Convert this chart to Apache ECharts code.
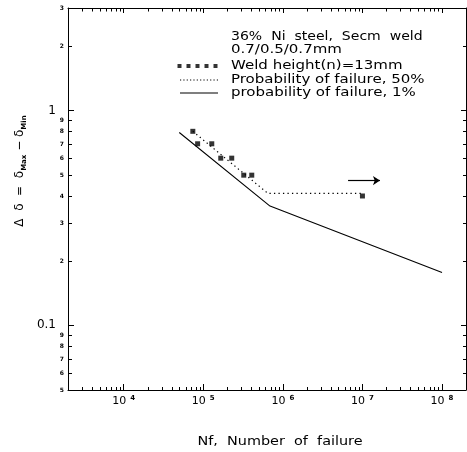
<!DOCTYPE html>
<html><head><meta charset="utf-8">
<script src="https://cdn.jsdelivr.net/npm/echarts@6/dist/echarts.min.js"></script>
<style>html,body{margin:0;padding:0;background:#fff}#c{width:467px;height:452px}</style>
</head><body><div id="c"></div>
<script>
// ---- data ----
const weldN     = [7.4e4, 8.5e4, 1.28e5, 1.66e5, 2.28e5, 3.23e5, 4.07e5, 1.0e7];
const weldDelta = [0.80, 0.70, 0.70, 0.60, 0.60, 0.50, 0.50, 0.40];
const p50N      = [7.4e4, 6.5e5, 1.0e7];
const p50Delta  = [0.80, 0.411, 0.411];
const p1N       = [5.0e4, 6.9e5, 1.0e8];
const p1Delta   = [0.79, 0.359, 0.176];
const arrowN    = [6.6e6, 1.66e7];
const arrowDelta= [0.472, 0.472];
const xRange = [2000, 2e8];
const yRange = [0.05, 3];
const minorMultipliers = [2, 3, 4, 5, 6, 7, 8, 9];
const xDecades = [3, 4, 5, 6, 7, 8];
const yDecades = [-2, -1, 0];
const seriesNames = ['Weld height(n)=13mm', 'Probability of failure, 50%', 'probability of failure, 1%'];
const noteLines = ['36%  Ni  steel,  Secm  weld', '0.7/0.5/0.7mm'];
const xTitle = 'Nf,  Number  of  failure';

const FONT = 'DejaVu Sans';
const isDecade = v => Math.abs(Math.log10(v) - Math.round(Math.log10(v))) < 1e-6;

const chart = echarts.init(document.getElementById('c'), null, {renderer: 'canvas'});
const squaresIcon = 'path://M0,0h4v4h-4zM9,0h4v4h-4zM18,0h4v4h-4zM27,0h4v4h-4zM36,0h4v4h-4z';
let dots = '';
for (let i = 0; i < 12; i++) dots += 'M' + (i * 3.4).toFixed(1) + ',0h1.2v1.2h-1.2z';
const dottedIcon = 'path://' + dots;
const solidIcon = 'path://M0,0h38v1.1h-38z';

const legendCommon = {orient: 'vertical', itemWidth: 38, itemHeight: 4, padding: 0, selectedMode: false,
  formatter: () => '', textStyle: {fontSize: 1}};

const option = {
  animation: false,
  backgroundColor: '#fff',
  grid: {left: 68, right: 1, top: 8, bottom: 62, containLabel: false},
  xAxis: [{
    type: 'log', logBase: 10, min: xRange[0], max: xRange[1], position: 'bottom',
    axisLine: {show: true, lineStyle: {color: '#000', width: 1}},
    axisTick: {show: true, inside: true, length: 6, lineStyle: {color: '#000', width: 1}},
    splitLine: {show: false},
    axisLabel: {
      show: true, margin: 5, showMinLabel: false, showMaxLabel: false,
      formatter: v => isDecade(v) ? '{b|10}{s|' + Math.round(Math.log10(v)) + '}' : '',
      rich: {
        b: {fontSize: 11, fontFamily: FONT, color: '#000', lineHeight: 13},
        s: {fontSize: 7, fontFamily: FONT, fontWeight: 'bold', color: '#000', verticalAlign: 'top', padding: [0, 0, 0, 4], lineHeight: 10}
      }
    }
  }, {
    type: 'log', logBase: 10, min: xRange[0], max: xRange[1], position: 'top',
    axisLine: {show: true, lineStyle: {color: '#000', width: 1}},
    axisTick: {show: true, inside: true, length: 5, lineStyle: {color: '#000', width: 1}},
    splitLine: {show: false}, axisLabel: {show: false}
  }],
  yAxis: [{
    type: 'log', logBase: 10, min: yRange[0], max: yRange[1], position: 'left',
    axisLine: {show: true, lineStyle: {color: '#000', width: 1}},
    axisTick: {show: true, inside: true, length: 6, lineStyle: {color: '#000', width: 1}},
    splitLine: {show: false},
    axisLabel: {
      show: true, margin: 12, showMinLabel: false, showMaxLabel: false,
      fontSize: 12, fontFamily: FONT, color: '#000',
      formatter: v => {
        if (!isDecade(v)) return '';
        const e = Math.round(Math.log10(v));
        return e >= 0 ? String(Math.pow(10, e)) : Math.pow(10, e).toFixed(-e);
      }
    }
  }, {
    type: 'log', logBase: 10, min: yRange[0], max: yRange[1], position: 'right',
    axisLine: {show: true, lineStyle: {color: '#000', width: 1}},
    axisTick: {show: true, inside: true, length: 5, lineStyle: {color: '#000', width: 1}},
    splitLine: {show: false}, axisLabel: {show: false}
  }],
  legend: [
    Object.assign({}, legendCommon, {data: [{name: seriesNames[0], icon: squaresIcon}], left: 177, top: 64, itemWidth: 41}),
    Object.assign({}, legendCommon, {data: [{name: seriesNames[1], icon: dottedIcon}], left: 180, top: 78}),
    Object.assign({}, legendCommon, {data: [{name: seriesNames[2], icon: solidIcon}], left: 180, top: 91})
  ],
  series: [
    {
      name: seriesNames[0], type: 'scatter', symbol: 'rect', symbolSize: 5,
      itemStyle: {color: '#000'},
      data: weldN.map((n, i) => [n, weldDelta[i]]),
      markLine: {
        silent: true, symbol: ['none', 'arrow'], symbolSize: 7,
        lineStyle: {color: '#000', type: 'solid', width: 1.2}, label: {show: false},
        data: [[{coord: [arrowN[0], arrowDelta[0]]}, {coord: [arrowN[1], arrowDelta[1]]}]]
      },
      z: 5
    },
    {
      name: seriesNames[1], type: 'line', symbol: 'none',
      lineStyle: {color: '#000', width: 1.2, type: [1.3, 3.2]},
      itemStyle: {color: '#000'},
      data: p50N.map((n, i) => [n, p50Delta[i]])
    },
    {
      name: seriesNames[2], type: 'line', symbol: 'none',
      lineStyle: {color: '#000', width: 1.1, type: 'solid'},
      itemStyle: {color: '#000'},
      data: p1N.map((n, i) => [n, p1Delta[i]])
    }
  ]
};
chart.setOption(option);

// ---- decorations: minor ticks, tiny minor labels, text block (via library scales) ----
const g = [];
const xp = v => chart.convertToPixel({xAxisIndex: 0}, v);
const yp = v => chart.convertToPixel({yAxisIndex: 0}, v);
const L = xp(xRange[0]), R = xp(xRange[1]), T = yp(yRange[1]), B = yp(yRange[0]);
const line = (x1, y1, x2, y2) => g.push({type: 'line', silent: true, shape: {x1, y1, x2, y2}, style: {stroke: '#000', lineWidth: 1}});

xDecades.forEach(k => minorMultipliers.forEach(m => {
  const v = m * Math.pow(10, k);
  if (v <= xRange[0] || v >= xRange[1]) return;
  const x = Math.round(xp(v)) + 0.5;
  line(x, B, x, B - 3);
  line(x, T, x, T + 3.5);
}));
yDecades.forEach(k => minorMultipliers.forEach(m => {
  const v = m * Math.pow(10, k);
  if (v < yRange[0] * 0.9999 || v > yRange[1] * 1.0001) return;
  const y = Math.round(yp(v)) + 0.5;
  line(L, y, L + 4, y);
  line(R, y, R - 3, y);
  g.push({type: 'text', silent: true, x: L - 4, y: y,
    style: {text: String(m), fill: '#000', font: 'bold 6px ' + FONT, textAlign: 'right', textVerticalAlign: 'middle'}});
}));

const txt = (text, x, y, sx) => g.push({type: 'text', silent: true, x, y, scaleX: sx || 1.25,
  style: {text, fill: '#000', font: '12px ' + FONT, textAlign: 'left', textVerticalAlign: 'middle'}});
txt(noteLines[0], 231, 37, 1.17);
txt(noteLines[1], 231, 50);
txt(seriesNames[0], 231, 66);
txt(seriesNames[1], 231, 80);
txt(seriesNames[2], 231, 93);
g.push({type: 'text', silent: true, x: 280, y: 442, scaleX: 1.2,
  style: {text: xTitle, fill: '#000', font: '12px ' + FONT, textAlign: 'center', textVerticalAlign: 'middle'}});
g.push({type: 'text', silent: true, x: 20, y: 171, rotation: Math.PI / 2,
  style: {
    text: '{n|Δ  δ  =  δ}{s|Max}{n| − δ}{s|Min}',
    textAlign: 'center', textVerticalAlign: 'middle',
    rich: {
      n: {fontSize: 12, fontFamily: FONT, fill: '#000', lineHeight: 15},
      s: {fontSize: 7, fontFamily: FONT, fontWeight: 'bold', fill: '#000', verticalAlign: 'bottom', lineHeight: 8}
    }
  }});

chart.setOption({graphic: g});
</script></body></html>
